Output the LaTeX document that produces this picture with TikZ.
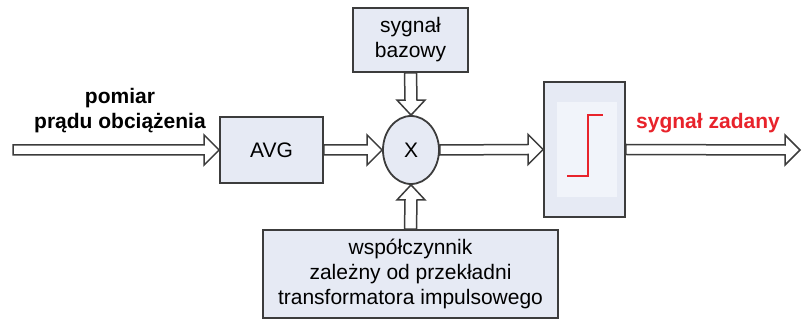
\documentclass[tikz,border=0pt]{standalone}
\usepackage{fontspec}
\setmainfont{Liberation Sans}
\usetikzlibrary{shapes.geometric,calc}
\definecolor{boxfill}{HTML}{E6EAF4}
\definecolor{innerfill}{HTML}{F1F4FA}
\definecolor{edge}{HTML}{3C3C3C}
\definecolor{sigred}{HTML}{E8232B}
\tikzset{
  blk/.style={draw=edge, line width=1.8pt, fill=boxfill, rectangle, inner sep=0pt, align=center, font=\fontsize{21}{25}\selectfont},
  barr/.style={draw=edge, line width=1.5pt, fill=white, line join=miter},
  lbl/.style={align=center, inner sep=0pt, font=\fontsize{21}{25}\selectfont\bfseries},
}
\newcommand\harr[2]{\draw[barr] ([yshift=5pt]#1) -- ([xshift=-15pt,yshift=5pt]#2) -- ([xshift=-15pt,yshift=15pt]#2) -- (#2) -- ([xshift=-15pt,yshift=-15pt]#2) -- ([xshift=-15pt,yshift=-5pt]#2) -- ([yshift=-5pt]#1) -- cycle;}
\begin{document}
\begin{tikzpicture}[x=1pt,y=-1pt]
\useasboundingbox (0,0) rectangle (803,320);
% blocks
\node[blk, minimum width=103pt, minimum height=66pt] (avg) at (271.5,150) {AVG};
\node[blk, minimum width=115pt, minimum height=64pt] (baz) at (410.5,40) {sygnał\\bazowy};
\node[blk, minimum width=295pt, minimum height=88pt] (wsp) at (410.5,274) {współczynnik\\zależny od przekładni\\transformatora impulsowego};
\node[blk, minimum width=81pt, minimum height=135pt] (stp) at (584.5,149.5) {};
\node[blk, ellipse, minimum width=56pt, minimum height=68pt] (mul) at (411,150) {X};
% inner area of step block
\fill[innerfill] (557,102) rectangle (617,197);
\draw[sigred, line width=1.8pt] (567,176) -- (588,176) -- (588,115) -- (603,115);
% free ends
\coordinate (in) at (13,150);
\coordinate (out) at (800,150);
% horizontal block arrows
\harr{in}{avg.west}
\harr{avg.east}{mul.west}
\harr{mul.east}{stp.west}
\harr{stp.east}{out}
% vertical block arrows
\draw[barr] ([xshift=-6pt]baz.south) -- ([xshift=-6pt,yshift=15pt]mul.north) -- ([xshift=-14pt,yshift=15pt]mul.north) -- (mul.north) -- ([xshift=14pt,yshift=15pt]mul.north) -- ([xshift=6pt,yshift=15pt]mul.north) -- ([xshift=6pt]baz.south) -- cycle;
\draw[barr] ([xshift=-6pt]wsp.north) -- ([xshift=-6pt,yshift=-15pt]mul.south) -- ([xshift=-14pt,yshift=-15pt]mul.south) -- (mul.south) -- ([xshift=14pt,yshift=-15pt]mul.south) -- ([xshift=6pt,yshift=-15pt]mul.south) -- ([xshift=6pt]wsp.north) -- cycle;
% labels
\node[lbl] (lin) at (120,111) {pomiar\\prądu obciążenia};
\node[lbl, text=sigred] (lout) at (708,123) {sygnał zadany};
\end{tikzpicture}
\end{document}
